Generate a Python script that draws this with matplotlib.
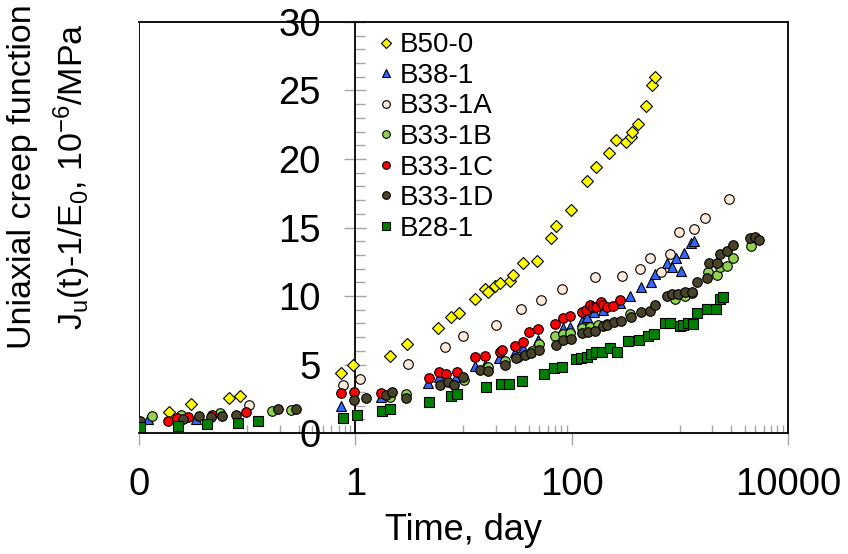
import matplotlib
matplotlib.use("Agg")
import matplotlib.pyplot as plt
from matplotlib.lines import Line2D
from matplotlib.ticker import FixedLocator, NullFormatter

plt.rcParams['font.family'] = ['Liberation Sans', 'DejaVu Sans']
plt.rcParams['mathtext.fontset'] = 'custom'
plt.rcParams['mathtext.rm'] = 'Liberation Sans'
plt.rcParams['mathtext.it'] = 'Liberation Sans'

# data: time (day) and creep function (1e-6/MPa)
b50_0_t = [0.019, 0.030, 0.068, 0.085, 0.74, 0.96, 2.08, 3.03, 5.82, 7.74, 9.04,
           12.7, 15.7, 16.9, 19.5, 21.7, 26.8, 28.8, 35.6, 47.4, 63.9, 71.6, 97.9,
           138, 167, 223, 257, 316, 352, 364, 414, 484, 557, 590]
b50_0_j = [1.55, 2.14, 2.53, 2.70, 4.40, 4.99, 5.62, 6.47, 7.69, 8.49, 8.76,
           9.80, 10.49, 10.29, 10.73, 10.97, 11.12, 11.53, 12.43, 12.58, 14.21, 15.11, 16.28,
           18.39, 19.44, 20.46, 21.39, 21.26, 21.63, 21.99, 22.53, 23.89, 25.40, 25.99]

b38_1_t = [0.012, 0.034, 0.73, 1.71, 4.70, 5.91, 8.61, 12.7, 15.7, 21.2, 29.9, 35.6, 48.4,
           83.6, 96.4, 125, 138, 162, 196, 280, 347, 439, 539, 590,
           768, 843, 918, 1021, 1104, 1273, 1356]
b38_1_j = [1.02, 1.00, 1.97, 2.61, 3.67, 4.07, 4.07, 4.89, 4.96, 5.45, 5.93, 6.18, 6.79,
           7.64, 7.76, 8.20, 8.49, 8.85, 8.98, 9.47, 10.02, 10.64, 11.04, 11.61,
           12.39, 12.14, 12.75, 11.85, 13.16, 13.85, 14.04]

b33_1a_t = [0.103, 0.774, 1.10, 3.07, 6.71, 9.92, 19.8, 33.7, 51.6, 82.2,
            164, 294, 429, 531, 671, 813, 986, 1365, 1714, 2860]
b33_1a_j = [2.04, 3.50, 3.96, 5.01, 6.30, 7.08, 7.91, 9.03, 9.71, 10.49,
            11.36, 11.46, 11.97, 12.75, 11.77, 13.07, 14.65, 14.91, 15.72, 17.10]

b33_1b_t = [0.0131, 0.0245, 0.0566, 0.169, 0.255, 2.08, 2.97, 10.1, 16.9, 24.1,
            31.6, 42.6, 50.1, 70, 83.6, 96.4, 124, 148, 176, 211,
            347, 904, 1119, 1291, 1841, 2201, 2361, 2723, 3096, 4542]
b33_1b_j = [1.26, 1.31, 1.44, 1.63, 1.68, 2.65, 2.85, 3.87, 4.84, 5.28,
            5.57, 6.01, 6.50, 7.08, 7.23, 7.28, 7.64, 7.76, 7.88, 7.96,
            8.69, 9.76, 10.0, 10.20, 11.77, 11.53, 12.14, 12.19, 12.75, 13.67]

b33_1c_t = [0.0184, 0.0223, 0.0282, 0.047, 0.098, 0.736, 0.975, 1.71, 4.77, 5.91,
            6.96, 8.73, 12.9, 15.7, 21.7, 22.8, 29.9, 35.6, 40.5, 48.4,
            70, 82.5, 96.4, 124, 135, 148, 158, 167, 186, 196, 211, 243, 280]
b33_1c_j = [0.90, 1.07, 1.15, 1.31, 1.53, 2.94, 2.97, 2.94, 4.01, 4.47,
            4.31, 4.43, 5.57, 5.62, 5.93, 6.06, 6.37, 6.66, 7.39, 7.59,
            7.93, 8.37, 8.56, 8.85, 8.98, 9.34, 9.18, 9.22, 9.58, 9.34, 9.22, 9.27, 9.71]

b33_1d_t = [0.0103, 0.0253, 0.0356, 0.0464, 0.0587, 0.0791, 0.192, 0.280,
            0.964, 1.26, 1.94, 2.18, 2.97, 6.04, 7.2, 8.18, 9.92,
            14.2, 16.9, 24.1, 30.9, 36.9, 42, 49.9, 71.6, 83.6, 98,
            124, 143, 164, 196, 211, 247, 284, 352, 439, 531, 590,
            758, 854, 971, 1119, 1291, 1456, 1802, 1880, 2201, 2361, 2760, 3096,
            4477, 4980, 5345]
b33_1d_j = [0.90, 1.00, 1.24, 1.15, 1.24, 1.31, 1.73, 1.73,
            2.41, 2.52, 2.77, 2.97, 2.58, 3.50, 3.74, 3.50, 4.11,
            4.60, 4.53, 4.96, 5.45, 5.69, 5.86, 6.06, 6.42, 6.79, 6.84,
            7.28, 7.39, 7.47, 7.81, 7.88, 8.12, 8.20, 8.49, 8.85, 8.93, 9.34,
            10.0, 10.15, 10.15, 10.31, 10.31, 11.04, 11.29, 12.39, 12.43, 13.07, 13.31, 13.72,
            14.26, 14.33, 14.09]

b28_1_t = [0.0103, 0.0228, 0.0426, 0.083, 0.125, 0.768, 1.04, 1.76, 2.08,
           4.77, 7.74, 8.73, 16.1, 22, 26.4, 34.9, 55.7, 69, 81.8,
           109, 121, 138, 150, 168, 190, 226, 264, 334, 423, 512, 578,
           731, 813, 1007, 1080, 1202, 1336, 1456, 1778, 2168, 2361, 2534]
b28_1_j = [0.46, 0.53, 0.66, 0.75, 0.90, 1.12, 1.31, 1.61, 1.73,
           2.26, 2.72, 2.85, 3.34, 3.60, 3.60, 3.80, 4.31, 4.77, 4.84,
           5.38, 5.45, 5.53, 5.77, 5.89, 5.93, 6.18, 5.93, 6.74, 6.79, 7.08, 7.23,
           8.01, 8.01, 7.81, 7.88, 8.05, 7.96, 8.74, 9.03, 9.03, 9.76, 9.95]

x_ticks = [0.01, 1, 100, 10000]
x_ticklabels = ['0', '1', '100', '10000']
y_ticks = [0, 5, 10, 15, 20, 25, 30]

fig = plt.figure(figsize=(8.48, 5.54), dpi=100)
ax = fig.add_axes([0.1639, 0.2184, 0.7653, 0.7419])

# series: (label, x, y, marker, face colour, size)
series = [
    ('B50-0', b50_0_t, b50_0_j, 'D', '#FFFF00', 5.8),
    ('B38-1', b38_1_t, b38_1_j, '^', '#3366FF', 7.2),
    ('B33-1A', b33_1a_t, b33_1a_j, 'o', '#FDE9D9', 6.9),
    ('B33-1B', b33_1b_t, b33_1b_j, 'o', '#92D050', 6.9),
    ('B33-1C', b33_1c_t, b33_1c_j, 'o', '#FF0000', 6.9),
    ('B33-1D', b33_1d_t, b33_1d_j, 'o', '#494429', 6.9),
    ('B28-1', b28_1_t, b28_1_j, 's', '#008000', 6.8),
]
for lab, xs, ys, mk, fc, ms in series:
    ax.plot(xs, ys, linestyle='none', marker=mk, markersize=ms, markerfacecolor=fc,
            markeredgecolor='black', markeredgewidth=0.8, label=lab, zorder=3)

ax.set_xscale('log')
ax.set_xlim(0.01, 10000)
ax.set_ylim(0, 30)

# y axis crosses at x = 1, like the original chart
ax.spines['left'].set_position(('data', 1))
for s in ['left', 'right', 'top', 'bottom']:
    ax.spines[s].set_linewidth(1.3)
    ax.spines[s].set_color('black')
ax.add_line(Line2D([0, 0], [0, 1], transform=ax.transAxes, color='black', linewidth=1.3, zorder=2.5))

ax.xaxis.set_major_locator(FixedLocator(x_ticks))
ax.set_xticklabels(x_ticklabels)
minor_x = [m * 10 ** e for e in (-1, 1, 3) for m in range(1, 10)]
ax.xaxis.set_minor_locator(FixedLocator(minor_x))
ax.xaxis.set_minor_formatter(NullFormatter())

ax.yaxis.set_major_locator(FixedLocator(y_ticks))
ax.yaxis.set_minor_locator(FixedLocator(range(0, 31)))

tick_col = '#a6a6a6'
ax.tick_params(axis='x', which='major', direction='out', length=8.6, width=1, color=tick_col,
               labelsize=27.5, pad=16)
ax.tick_params(axis='x', which='minor', direction='in', length=6, width=1, color=tick_col)
ax.tick_params(axis='y', which='major', direction='inout', length=15.8, width=1, color=tick_col,
               labelsize=27.5, pad=17)
ax.tick_params(axis='y', which='minor', direction='in', length=7.2, width=1, color=tick_col)

ax.set_xlabel('Time, day', fontsize=26, labelpad=7)
fig.text(0.059, 0.681, 'Uniaxial creep function\nJ$_\\mathrm{u}$(t)-1/E$_\\mathrm{0}$, 10$^{-6}$/MPa',
         rotation=90, ha='center', va='center', multialignment='center', fontsize=24.5,
         linespacing=1.45)

ax.legend(loc='upper left', bbox_to_anchor=(0.3676, 0.975), frameon=False, fontsize=20,
          handlelength=0.6, handletextpad=0.2, borderpad=0, borderaxespad=0,
          labelspacing=0.165, markerscale=0.8)

plt.savefig('out.png', dpi=100)
